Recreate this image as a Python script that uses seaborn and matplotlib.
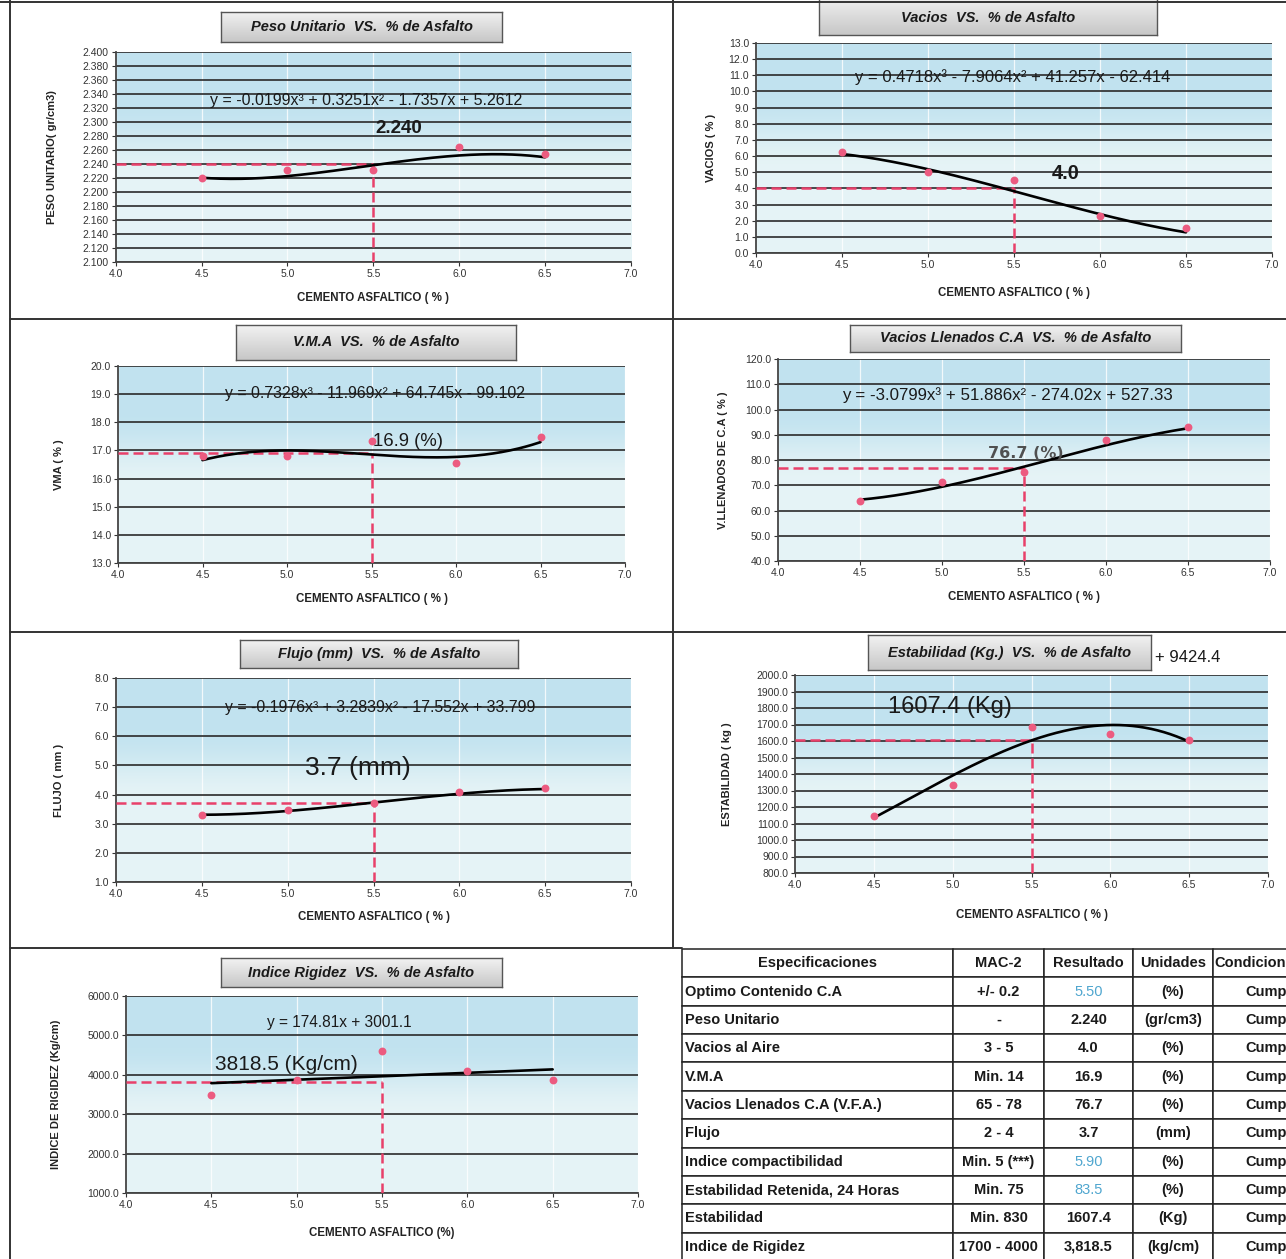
import numpy as np
import matplotlib
matplotlib.use("Agg")
import matplotlib.pyplot as plt
from matplotlib.lines import Line2D
import seaborn as sns

# Tamaño de la lámina en píxeles
W, H = 1286, 1259

pct_asfalto = [4.5, 5.0, 5.5, 6.0, 6.5]
peso_unitario = [2.220, 2.232, 2.231, 2.264, 2.255]
vacios = [6.25, 5.00, 4.50, 2.27, 1.55]
vma = [16.81, 16.79, 17.32, 16.57, 17.46]
vfa = [63.8, 71.1, 75.4, 88.0, 93.0]
flujo = [3.30, 3.48, 3.71, 4.09, 4.22]
estabilidad = [1148, 1336, 1686, 1642, 1609]
rigidez = [3479, 3870, 4600, 4090, 3861]

# Coeficientes de las líneas de tendencia (tal como aparecen en cada gráfico)
coef_peso = [-0.0199, 0.3251, -1.7357, 5.2612]
coef_vacios = [0.4718, -7.9064, 41.257, -62.414]
coef_vma = [0.7328, -11.969, 64.745, -99.102]
coef_vfa = [-3.0799, 51.886, -274.02, 527.33]
coef_flujo = [-0.1976, 3.2839, -17.552, 33.799]
coef_rigidez = [174.81, 3001.1]
# la ecuación de estabilidad queda tapada por el título -> se ajusta un polinomio de grado 3
coef_estab = np.polyfit(pct_asfalto, estabilidad, 3)

# Resultados en el óptimo
opt_ca = 5.5
res_peso = 2.240
res_vacios = 4.0
res_vma = 16.9
res_vfa = 76.7
res_flujo = 3.7
res_estab = 1607.4
res_rigidez = 3818.5

# Tabla de especificaciones
tabla_cols = ["Especificaciones", "MAC-2", "Resultado", "Unidades", "Condiciones"]
tabla_espec = ["Optimo Contenido C.A", "Peso Unitario", "Vacios al Aire", "V.M.A",
               "Vacios Llenados C.A (V.F.A.)", "Flujo", "Indice compactibilidad",
               "Estabilidad Retenida, 24 Horas", "Estabilidad", "Indice de Rigidez"]
tabla_mac2 = ["+/- 0.2", "-", "3 - 5", "Min. 14", "65 - 78", "2 - 4", "Min. 5 (***)",
              "Min. 75", "Min. 830", "1700 - 4000"]
tabla_result = ["5.50", "2.240", "4.0", "16.9", "76.7", "3.7", "5.90", "83.5", "1607.4", "3,818.5"]
tabla_unid = ["(%)", "(gr/cm3)", "(%)", "(%)", "(%)", "(mm)", "(%)", "(%)", "(Kg)", "(kg/cm)"]
tabla_cond = ["Cumple"] * 10
filas_azules = [0, 6, 7]

sns.set_theme(style="white")
plt.rcParams["font.family"] = ["Liberation Sans", "DejaVu Sans"]

ROJO = "#e8406a"
PUNTO = "#ec5b80"
ANGOSTA = ["Liberation Sans Narrow", "Liberation Sans", "DejaVu Sans"]

fig = plt.figure(figsize=(W / 100, H / 100), dpi=100)
fig.patch.set_facecolor("white")


def fx(x):
    return x / W


def fy(y):
    return 1 - y / H


def ejes_px(x0, y0, x1, y1):
    return fig.add_axes([fx(x0), fy(y1), (x1 - x0) / W, (y1 - y0) / H])


def fondo(ax, ylo, yhi):
    g = np.linspace(0, 1, 200)[:, None]
    t = np.clip((g - 0.25) / 0.35, 0, 1)
    t = t * t * (3 - 2 * t)
    arriba = np.array([0.76, 0.89, 0.94])
    abajo = np.array([0.90, 0.955, 0.965])
    img = arriba * (1 - t[..., None]) + abajo * t[..., None]
    ax.imshow(img, extent=[4, 7, ylo, yhi], aspect="auto", zorder=0, origin="upper")


def caja_titulo(x0, y0, x1, y1, texto):
    # recuadro gris con degradado, como el de la planilla
    cax = ejes_px(x0, y0, x1, y1)
    g = np.linspace(0.95, 0.78, 50)[:, None]
    cax.imshow(np.dstack([g, g, g]), aspect="auto", extent=[0, 1, 0, 1], origin="upper")
    cax.set_xticks([])
    cax.set_yticks([])
    for s in cax.spines.values():
        s.set_color("#555555")
        s.set_linewidth(1.0)
    ytxt = (max(y0, 0) + y1) / 2
    cax.text(0.5, 1 - (ytxt - y0) / (y1 - y0), texto, transform=cax.transAxes, ha="center",
             va="center", fontsize=10.5, fontweight="bold", fontstyle="italic", color="#1a1a1a")


paneles = [
    dict(y=peso_unitario, coef=coef_peso, res=res_peso, ylim=(2.100, 2.400), n=15, fmt="{:.3f}",
         caja=(115.6, 52, 631, 262), titulo="Peso Unitario  VS.  % de Asfalto", caja_t=(221, 12, 502, 42),
         ylabel="PESO UNITARIO( gr/cm3)", ylab_x=52, xlab_y=298, xlabel="CEMENTO ASFALTICO ( % )",
         ec="y = -0.0199x³ + 0.3251x² - 1.7357x + 5.2612", pos_ec=(5.46, 2.331), tam_ec=11.5,
         et="2.240", pos_et=(5.65, 2.291), est_et=dict(size=13.5, weight="bold")),
    dict(y=vacios, coef=coef_vacios, res=res_vacios, ylim=(0.0, 13.0), n=13, fmt="{:.1f}",
         caja=(756, 43, 1272, 253), titulo="Vacios  VS.  % de Asfalto", caja_t=(819, -5, 1157, 35),
         ylabel="VACIOS ( % )", ylab_x=711, xlab_y=293, xlabel="CEMENTO ASFALTICO ( % )",
         ec="y = 0.4718x³ - 7.9064x² + 41.257x - 62.414", pos_ec=(5.49, 10.9), tam_ec=12,
         et="4.0", pos_et=(5.80, 4.95), est_et=dict(size=14.5, weight="bold")),
    dict(y=vma, coef=coef_vma, res=res_vma, ylim=(13.0, 20.0), n=7, fmt="{:.1f}",
         caja=(118, 366, 625, 563), titulo="V.M.A  VS.  % de Asfalto", caja_t=(236, 325, 516, 360),
         ylabel="VMA ( % )", ylab_x=59, xlab_y=599, xlabel="CEMENTO ASFALTICO ( % )",
         ec="y = 0.7328x³ - 11.969x² + 64.745x - 99.102", pos_ec=(5.52, 19.04), tam_ec=11.4,
         et="16.9 (%)", pos_et=(5.51, 17.30), est_et=dict(size=13.3, ha="left")),
    dict(y=vfa, coef=coef_vfa, res=res_vfa, ylim=(40.0, 120.0), n=8, fmt="{:.1f}",
         caja=(778, 359, 1270, 561), titulo="Vacios Llenados C.A  VS.  % de Asfalto", caja_t=(850, 325, 1181, 352),
         ylabel="V.LLENADOS DE C.A ( % )", ylab_x=723, xlab_y=597, xlabel="CEMENTO ASFALTICO ( % )",
         ec="y = -3.0799x³ + 51.886x² - 274.02x + 527.33", pos_ec=(5.40, 105.7), tam_ec=12.2,
         et="76.7 (%)", pos_et=(5.51, 82.4),
         est_et=dict(size=11.5, weight="bold", color="#505050", family=["DejaVu Sans"])),
    dict(y=flujo, coef=coef_flujo, res=res_flujo, ylim=(1.0, 8.0), n=7, fmt="{:.1f}",
         caja=(116, 678, 631, 882), titulo="Flujo (mm)  VS.  % de Asfalto", caja_t=(240, 640, 518, 668),
         ylabel="FLUJO ( mm )", ylab_x=59, xlab_y=917, xlabel="CEMENTO ASFALTICO ( % )",
         ec="y = -0.1976x³ + 3.2839x² - 17.552x + 33.799", pos_ec=(5.54, 7.0), tam_ec=11.4,
         et="3.7 (mm)", pos_et=(5.41, 4.91), est_et=dict(size=19, family=ANGOSTA)),
    dict(y=estabilidad, coef=coef_estab, res=res_estab, ylim=(800.0, 2000.0), n=12, fmt="{:.1f}",
         caja=(795, 675, 1268, 873), titulo="Estabilidad (Kg.)  VS.  % de Asfalto", caja_t=(868, 635, 1151, 670),
         ylabel="ESTABILIDAD ( kg )", ylab_x=727, xlab_y=915, xlabel="CEMENTO ASFALTICO ( % )",
         ec=None, pos_ec=None, tam_ec=None,
         et="1607.4 (Kg)", pos_et=(4.98, 1806), est_et=dict(size=17, family=ANGOSTA)),
    dict(y=rigidez, coef=coef_rigidez, res=res_rigidez, ylim=(1000.0, 6000.0), n=5, fmt="{:.1f}",
         caja=(126, 996, 638, 1193), titulo="Indice Rigidez  VS.  % de Asfalto", caja_t=(221, 958, 502, 987),
         ylabel="INDICE DE RIGIDEZ (Kg/cm)", ylab_x=56, xlab_y=1233, xlabel="CEMENTO ASFALTICO (%)",
         ec="y = 174.81x + 3001.1", pos_ec=(5.25, 5315), tam_ec=11.2,
         et="3818.5 (Kg/cm)", pos_et=(4.94, 4274), est_et=dict(size=15)),
]

xs = np.linspace(min(pct_asfalto), max(pct_asfalto), 200)
xticks = np.linspace(4.0, 7.0, 7)

for p in paneles:
    x0, y0, x1, y1 = p["caja"]
    ax = ejes_px(x0, y0, x1, y1)
    lo, hi = p["ylim"]
    fondo(ax, lo, hi)

    # línea de tendencia y puntos de ensayo
    sns.lineplot(x=xs, y=np.polyval(p["coef"], xs), ax=ax, color="black", lw=1.9, zorder=4)
    sns.scatterplot(x=pct_asfalto, y=p["y"], ax=ax, color=PUNTO, s=32, edgecolor=PUNTO,
                    linewidth=0, zorder=5)

    # óptimo: líneas discontinuas
    ax.plot([4.0, opt_ca], [p["res"], p["res"]], color=ROJO, lw=1.8, ls=(0, (4, 2)), zorder=3)
    ax.plot([opt_ca, opt_ca], [lo, p["res"]], color=ROJO, lw=1.8, ls=(0, (4, 2)), zorder=3)

    ax.set_xlim(4.0, 7.0)
    ax.set_ylim(lo, hi)
    ax.set_xticks(xticks)
    ax.set_xticklabels([f"{v:.1f}" for v in xticks])
    yt = np.linspace(lo, hi, p["n"] + 1)
    ax.set_yticks(yt)
    ax.set_yticklabels([p["fmt"].format(v) for v in yt])
    ax.tick_params(axis="both", labelsize=7.5, colors="#333333", length=3, width=0.8,
                   bottom=True, left=True, pad=2)

    ax.yaxis.grid(True, color="#2a2a2a", lw=1.2)
    ax.xaxis.grid(True, color="white", lw=0.9, alpha=0.8)
    ax.set_axisbelow(True)
    for lado in ["top", "right"]:
        ax.spines[lado].set_visible(False)
    for lado in ["left", "bottom"]:
        ax.spines[lado].set_color("#444444")
        ax.spines[lado].set_linewidth(1.3)

    ax.set_xlabel("")
    ax.set_ylabel("")
    fig.text(fx(p["ylab_x"]), fy((y0 + y1) / 2), p["ylabel"], rotation=90, ha="center", va="center",
             fontsize=8, fontweight="bold", color="#222222")
    fig.text(fx((x0 + x1) / 2), fy(p["xlab_y"]), p["xlabel"],
             ha="center", va="center", fontsize=8.3, fontweight="bold", color="#222222")

    if p["ec"]:
        ax.text(p["pos_ec"][0], p["pos_ec"][1], p["ec"], ha="center", va="center",
                fontsize=p["tam_ec"], color="#1a1a1a", zorder=6)
    est = dict(ha="center", va="center", color="#1a1a1a")
    est.update(p["est_et"])
    ax.text(p["pos_et"][0], p["pos_et"][1], p["et"], zorder=6, **est)

    caja_titulo(*p["caja_t"], p["titulo"])

# resto de la ecuación de estabilidad que asoma junto al título
fig.text(fx(1155), fy(657), "+ 9424.4", ha="left", va="center", fontsize=12, color="#1a1a1a")

# marco de la lámina
for (xa, ya, xb, yb) in [(0, 2, W, 2), (10, 0, 10, H), (673, 0, 673, 948),
                          (10, 319, W, 319), (10, 632, W, 632), (10, 948, 682, 948)]:
    fig.add_artist(Line2D([fx(xa), fx(xb)], [fy(ya), fy(yb)], transform=fig.transFigure,
                          color="#333333", lw=1.4))

# tabla de resultados
anchos_px = [271, 91, 89, 80, 118]
tx0, ty0 = 682, 949
tx1, ty1 = tx0 + sum(anchos_px), 1261
tab_ax = ejes_px(tx0, ty0, tx1, ty1)
tab_ax.axis("off")
filas = [list(f) for f in zip(tabla_espec, tabla_mac2, tabla_result, tabla_unid, tabla_cond)]
tbl = tab_ax.table(cellText=filas, colLabels=tabla_cols,
                   colWidths=[a / sum(anchos_px) for a in anchos_px],
                   cellLoc="center", bbox=[0, 0, 1, 1])
tbl.auto_set_font_size(False)
tbl.set_fontsize(10.5)
for (r, c), cell in tbl.get_celld().items():
    cell.set_edgecolor("#222222")
    cell.set_linewidth(1.1)
    cell.set_facecolor("white")
    txt = cell.get_text()
    txt.set_fontweight("bold")
    txt.set_color("#1a1a1a")
    if (r > 0 and c == 0) or (r == 0 and c == 4):
        cell.PAD = 0.012
        cell._loc = "left"
        txt.set_ha("left")
    if r > 0 and c == 2 and (r - 1) in filas_azules:
        txt.set_color("#4fa6cf")
        txt.set_fontweight("normal")

fig.savefig("out.png", dpi=100)
